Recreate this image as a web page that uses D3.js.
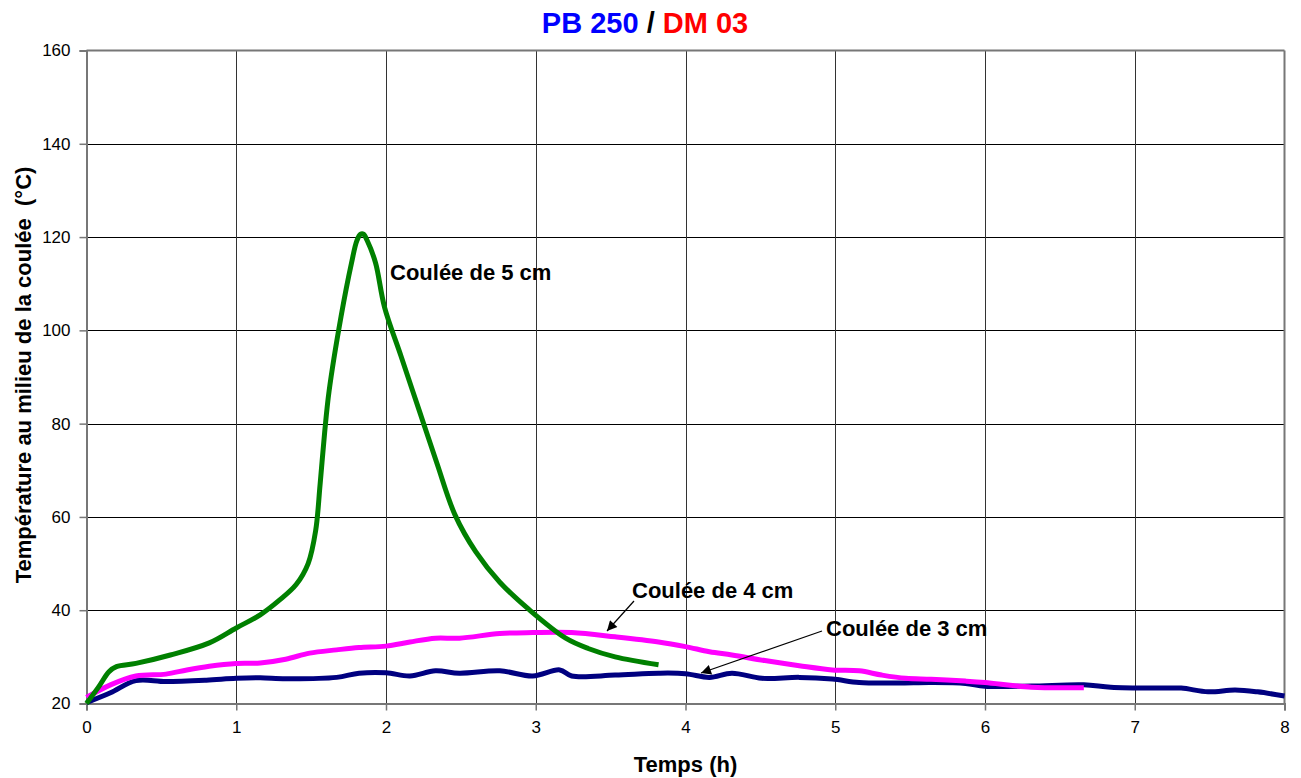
<!DOCTYPE html>
<html>
<head>
<meta charset="utf-8">
<script src="https://cdn.jsdelivr.net/npm/d3@7"></script>
<style>
  html, body { margin: 0; padding: 0; background: #fff; }
  svg { display: block; font-family: "Liberation Sans", Arial, sans-serif; }
</style>
</head>
<body>
<svg id="chart" width="1301" height="778"></svg>
<script>
// ---- Data ----
const xTicks = [0, 1, 2, 3, 4, 5, 6, 7, 8];
const yTicks = [20, 40, 60, 80, 100, 120, 140, 160];

const coulee5 = [
  [0,20],[0.08,23.5],[0.15,26.8],[0.2,27.9],[0.33,28.6],[0.56,30.4],[0.82,33],
  [1.0,36.2],[1.16,39],[1.29,42.2],[1.4,45.5],[1.48,50],[1.53,57],[1.56,67],
  [1.59,78],[1.62,87],[1.7,103],[1.77,114.5],[1.805,119.2],
  [1.83,120.6],[1.85,120.6],[1.875,119.2],[1.93,114.5],[1.99,105],[2.1,94.5],[2.22,83],
  [2.34,71.5],[2.46,60.5],[2.6,52.5],[2.76,46],[2.96,40],[3.2,34],
  [3.35,31.8],[3.53,30],[3.82,28.3]
];
const coulee4 = [
  [0,21.3],[0.16,24],[0.33,25.9],[0.53,26.3],[0.67,27.2],[0.82,28],[1.0,28.6],
  [1.16,28.7],[1.33,29.5],[1.49,30.8],[1.67,31.5],[1.82,32],[2.0,32.3],[2.16,33.2],
  [2.33,34],[2.49,34],[2.76,35],[2.98,35.2],[3.24,35.2],[3.53,34.3],[3.82,33.2],
  [4.0,32.2],[4.16,31.1],[4.31,30.4],[4.53,29.2],[4.76,28.1],[4.98,27.2],[5.16,27],
  [5.31,26.1],[5.47,25.4],[5.64,25.2],[5.87,24.8],[6.0,24.5],[6.31,23.5],[6.66,23.4]
];
const coulee3 = [
  [0,20.2],[0.16,22.3],[0.33,24.9],[0.53,24.7],[0.8,25],[1.0,25.4],[1.16,25.5],
  [1.33,25.3],[1.67,25.6],[1.82,26.5],[2.0,26.6],[2.16,25.9],[2.33,27],[2.49,26.5],
  [2.76,27],[2.98,25.9],[3.16,27.2],[3.24,25.9],[3.53,26.1],[3.82,26.5],[4.0,26.4],
  [4.16,25.6],[4.31,26.5],[4.51,25.4],[4.76,25.6],[4.98,25.25],[5.16,24.5],[5.42,24.4],
  [5.64,24.5],[5.87,24.3],[6.0,23.7],[6.31,23.75],[6.66,24],[6.84,23.5],[7.16,23.3],
  [7.31,23.3],[7.49,22.5],[7.67,22.9],[7.82,22.5],[8.0,21.6]
];

const seriesColors = { c3: "#000080", c4: "#ff00ff", c5: "#008000" };

// ---- Layout ----
const svg = d3.select("#chart");
const x = d3.scaleLinear().domain([0, 8]).range([86.5, 1284.5]);
const y = d3.scaleLinear().domain([20, 160]).range([703.5, 50.5]);
const snap = v => Math.round(v) + 0.5;

// Grid
const grid = svg.append("g");
grid.selectAll("line.h").data(yTicks.slice(1, -1)).enter().append("line")
  .attr("x1", x(0)).attr("x2", x(8)).attr("y1", d => snap(y(d))).attr("y2", d => snap(y(d)))
  .attr("stroke", "#000").attr("stroke-width", 1);
grid.selectAll("line.v").data(xTicks.slice(1, -1)).enter().append("line")
  .attr("y1", y(20)).attr("y2", y(160)).attr("x1", d => snap(x(d))).attr("x2", d => snap(x(d)))
  .attr("stroke", "#333").attr("stroke-width", 1);
// frame top/right
svg.append("line").attr("x1", x(0)).attr("x2", x(8)).attr("y1", y(160)).attr("y2", y(160))
  .attr("stroke", "#777").attr("stroke-width", 2);
svg.append("line").attr("x1", x(8)).attr("x2", x(8)).attr("y1", y(20)).attr("y2", y(160))
  .attr("stroke", "#777").attr("stroke-width", 2);

// Axes
const xAxis = svg.append("g").attr("transform", `translate(0,${y(20)})`)
  .call(d3.axisBottom(x).tickValues(xTicks).tickFormat(d3.format("d")).tickSizeOuter(0).tickSize(7).tickPadding(10));
const yAxis = svg.append("g").attr("transform", `translate(${x(0)},0)`)
  .call(d3.axisLeft(y).tickValues(yTicks).tickFormat(d3.format("d")).tickSizeOuter(0).tickSize(7).tickPadding(9));
[xAxis, yAxis].forEach(a => {
  a.select(".domain").attr("stroke", "#777").attr("stroke-width", 2);
  a.selectAll(".tick line").attr("stroke", "#777").attr("stroke-width", 1.5);
  a.selectAll(".tick text").attr("font-size", 17).attr("fill", "#000")
    .attr("font-family", "'Liberation Sans', Arial, sans-serif");
});

// Lines
const line = d3.line().x(d => x(d[0])).y(d => y(d[1])).curve(d3.curveCatmullRom.alpha(0.5));
[[coulee3, seriesColors.c3], [coulee4, seriesColors.c4], [coulee5, seriesColors.c5]].forEach(([data, col]) => {
  svg.append("path").datum(data).attr("d", line)
    .attr("fill", "none").attr("stroke", col).attr("stroke-width", 5)
    .attr("stroke-linejoin", "round").attr("stroke-linecap", "butt");
});

// Title
const title = svg.append("text").attr("x", 645).attr("y", 33).attr("text-anchor", "middle")
  .attr("font-size", 29).attr("font-weight", "bold");
title.append("tspan").attr("fill", "#0000ff").text("PB 250 ");
title.append("tspan").attr("fill", "#000").text("/");
title.append("tspan").attr("fill", "#ff0000").text(" DM 03");

// Axis titles
svg.append("text").attr("x", x(4)).attr("y", 772).attr("text-anchor", "middle")
  .attr("font-size", 22).attr("font-weight", "bold").text("Temps (h)");
svg.append("text").attr("transform", "translate(31,375) rotate(-90)").attr("text-anchor", "middle")
  .attr("font-size", 22).attr("font-weight", "bold").attr("xml:space", "preserve")
  .text("Température au milieu de la coulée  (°C)");

// Annotations
const defs = svg.append("defs");
defs.append("marker").attr("id", "arrow").attr("viewBox", "0 0 10 10")
  .attr("refX", 10).attr("refY", 5).attr("markerWidth", 14).attr("markerHeight", 10)
  .attr("markerUnits", "userSpaceOnUse").attr("orient", "auto")
  .append("path").attr("d", "M0,0 L10,5 L0,10 z").attr("fill", "#000");

const ann = svg.append("g").attr("font-size", 22).attr("font-weight", "bold");
ann.append("text").attr("x", 390).attr("y", 280).text("Coulée de 5 cm");
ann.append("text").attr("x", 632).attr("y", 598).text("Coulée de 4 cm");
ann.append("text").attr("x", 826).attr("y", 636).text("Coulée de 3 cm");
svg.append("line").attr("x1", 634).attr("y1", 601).attr("x2", 607).attr("y2", 631)
  .attr("stroke", "#000").attr("stroke-width", 1.2).attr("marker-end", "url(#arrow)");
svg.append("line").attr("x1", 822).attr("y1", 631).attr("x2", 701).attr("y2", 673)
  .attr("stroke", "#000").attr("stroke-width", 1.2).attr("marker-end", "url(#arrow)");
</script>
</body>
</html>
